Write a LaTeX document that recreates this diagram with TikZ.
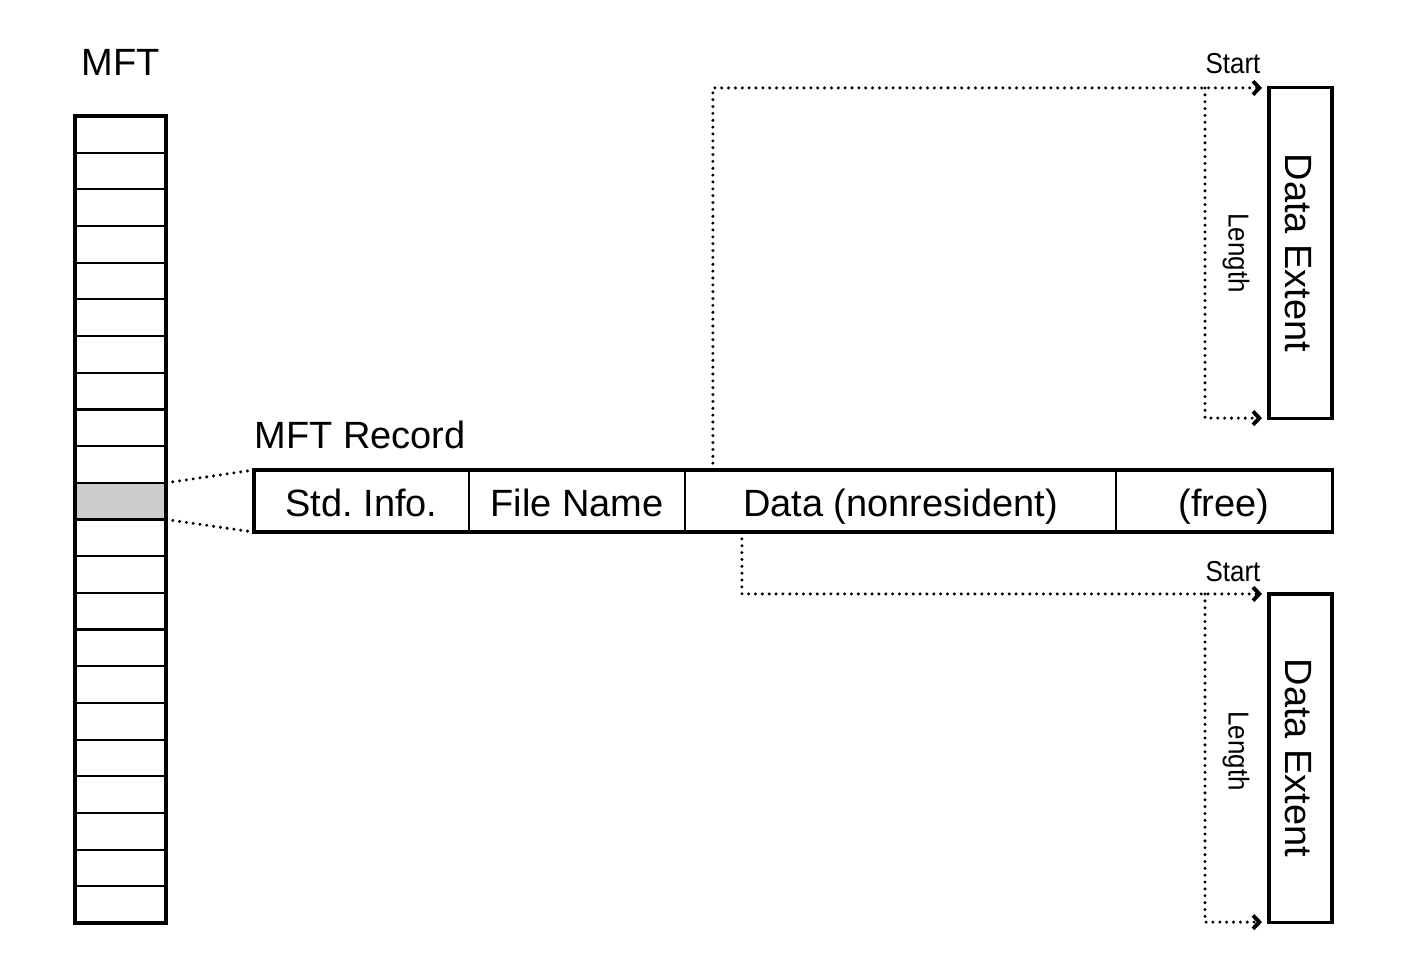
\documentclass[tikz,border=0pt]{standalone}
\usepackage{fontspec}
\setmainfont{Liberation Sans}
\newfontfamily\narrowfont[FakeStretch=0.9]{Liberation Sans}
\usetikzlibrary{arrows.meta}
\frenchspacing
\tikzset{
  mftcell/.style={draw, line width=0.6pt, minimum width=0.91cm, minimum height=0.3668cm, inner sep=0pt, outer sep=0pt},
  outerline/.style={draw, line width=0.9pt},
  reccell/.style={draw, line width=0.6pt, minimum height=0.62cm, inner sep=0pt, outer sep=0pt,
    text height=0.3cm, text depth=0pt, font=\fontsize{10.8}{13}\selectfont},
  extbox/.style={draw, line width=0.9pt, minimum width=0.63cm, inner sep=0pt, outer sep=0pt},
  biglabel/.style={font=\fontsize{10.8}{13}\selectfont, inner sep=0pt},
  smalllabel/.style={font=\narrowfont\fontsize{8.2}{10}\selectfont, inner sep=0pt},
  dotline/.style={line width=0.95pt, line cap=round, dash pattern=on 0pt off 1.95pt},
  tip/.style={-{Straight Barb[length=1.8pt,width=3.8pt,line width=1.1pt]}}
}
\begin{document}
\begin{tikzpicture}[x=0.01cm,y=-0.01cm]
\useasboundingbox (0,0) rectangle (1407,975);

% MFT column
\foreach \i in {0,...,21}{
  \ifnum\i=10
    \node[mftcell, fill={rgb,255:red,204;green,204;blue,204}] (cell\i) at (120.5,{116+36.68*(\i+0.5)}) {};
  \else
    \node[mftcell] (cell\i) at (120.5,{116+36.68*(\i+0.5)}) {};
  \fi
}
\draw[outerline] (cell0.north west) rectangle (cell21.south east);
\node[biglabel, anchor=base] (mftlabel) at (121,75) {MFT};

% MFT record
\node[reccell, minimum width=2.15cm] (std) at (361.5,501) {Std. Info.};
\node[reccell, minimum width=2.16cm] (fname) at (577,501) {File Name};
\node[reccell, minimum width=4.31cm] (data) at (900.5,501) {Data (nonresident)};
\node[reccell, minimum width=2.16cm] (free) at (1224,501) {(free)};
\draw[outerline] (std.north west) rectangle (free.south east);
\node[biglabel, anchor=base west] (reclabel) at (254,448) {MFT Record};

% zoom lines
\draw[dotline] (cell10.north east) -- (std.north west);
\draw[dotline] (cell10.south east) -- (std.south west);

% extents
\node[extbox, minimum height=3.30cm] (ext1) at (1300.5,253) {};
\node[biglabel, rotate=-90] (ext1lab) at (1298,253) {Data Extent};
\node[extbox, minimum height=3.28cm] (ext2) at (1300.5,758) {};
\node[biglabel, rotate=-90] (ext2lab) at (1298,758) {Data Extent};

% start / length top
\coordinate (s1) at (1205,88);
\draw[dotline, tip] ([xshift=0.28cm]data.north west) |- ([xshift=-0.07cm]ext1.north west);
\draw[dotline, tip] (s1) |- ([xshift=-0.07cm]ext1.south west);
\node[smalllabel, anchor=base] (start1) at (1233,73) {Start};
\node[smalllabel, rotate=-90] (len1) at (1236,253) {Length};

% start / length bottom
\coordinate (s2) at (1205,594);
\draw[dotline, tip] ([xshift=0.57cm]data.south west) |- ([xshift=-0.07cm]ext2.north west);
\draw[dotline, tip] (s2) |- ([xshift=-0.07cm]ext2.south west);
\node[smalllabel, anchor=base] (start2) at (1233,581) {Start};
\node[smalllabel, rotate=-90] (len2) at (1236,751) {Length};
\end{tikzpicture}
\end{document}
